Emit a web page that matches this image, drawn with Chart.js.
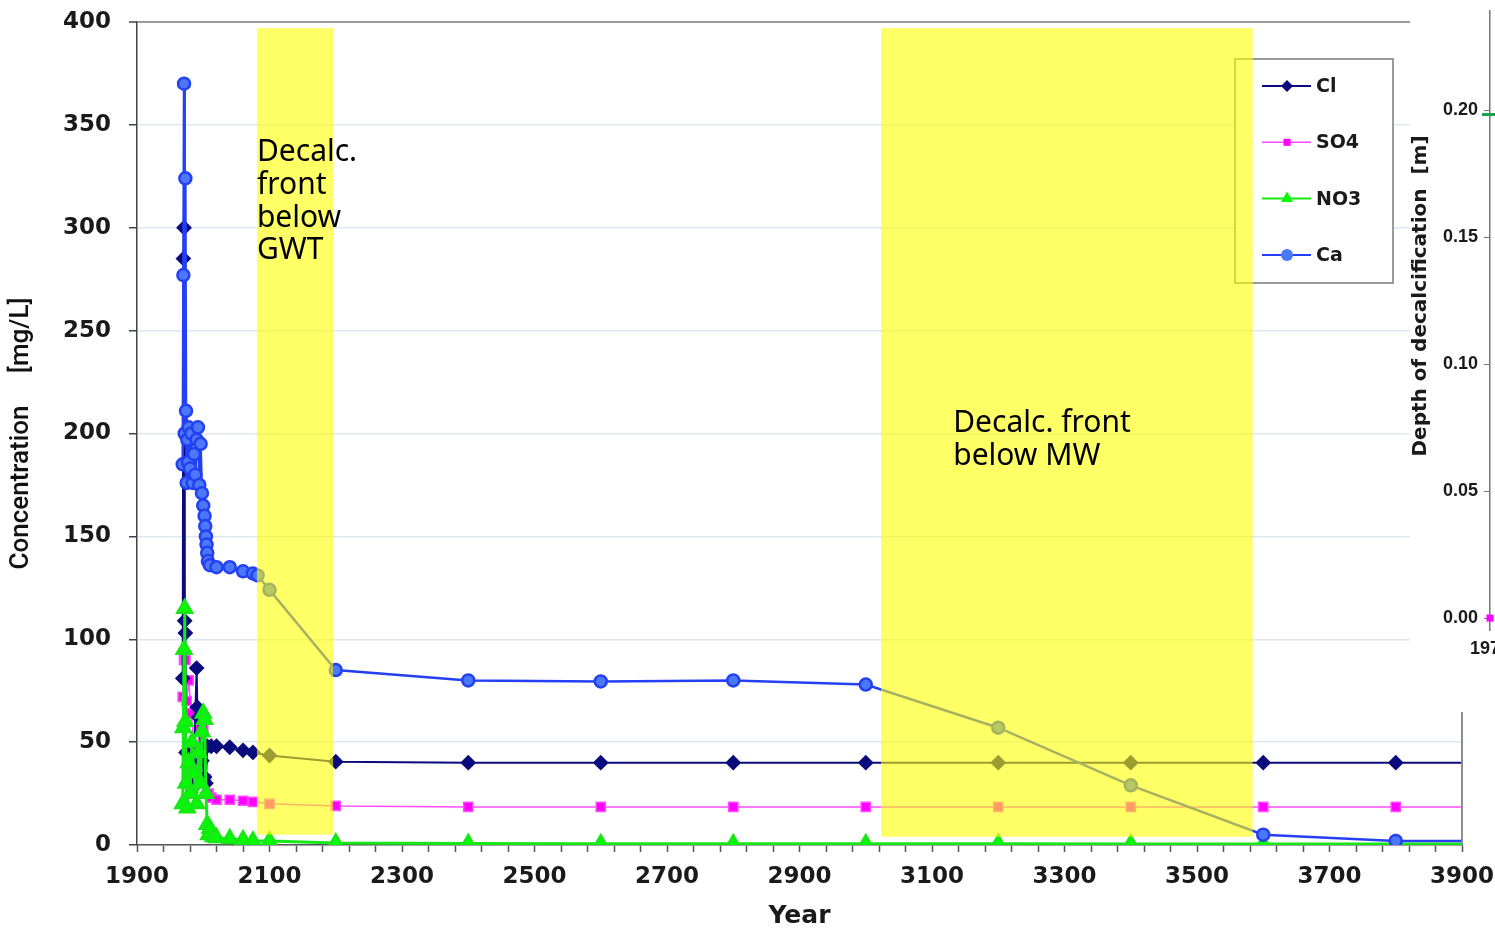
<!DOCTYPE html>
<html>
<head>
<meta charset="utf-8">
<title>Concentration and decalcification depth</title>
<script src="https://cdn.jsdelivr.net/npm/chart.js@4/dist/chart.umd.min.js"></script>
<style>
  html, body { margin: 0; padding: 0; background: #fff; overflow: hidden; width: 1495px; height: 929px; }
  #main { position: absolute; left: 0; top: 0; }
  #depth { position: absolute; left: 1410px; top: 0; background: #fff; }
</style>
</head>
<body>
<canvas id="main" width="1495" height="929"></canvas>
<canvas id="depth" width="200" height="712"></canvas>
<script>
// ---- Concentrations in seepage water [mg/L] ----
const clYears  = [1969,1970,1971,1972,1973,1974,1976,1980,1985,1990,1991,1993,1998,2002,2004,2006,2012,2020,2040,2060,2075,2100,2200,2400,2600,2800,3000,3200,3400,3600,3800,4000];
const clValues = [81,285,300,109,103,45,30,40,28,86,67,62,41,33,30,48,48,48,47.5,46,45,43.5,40.5,40,40,40,40,40,40,40,40,40];

const so4Years  = [1969,1971,1972,1973,1975,1978,1982,1986,1990,1994,1997,2000,2004,2008,2012,2020,2040,2060,2075,2100,2200,2400,2600,2800,3000,3200,3400,3600,3800,4000];
const so4Values = [72,90,200,90,70,80,64,48,38,57,64,57,32,25,23,22,22,21.5,21,20,19,18.5,18.5,18.5,18.5,18.5,18.5,18.5,18.5,18.5];

const no3Years  = [1969,1970,1971,1972,1973,1974,1976,1978,1980,1983,1986,1990,1993,1996,1998,2000,2002,2004,2006,2008,2010,2015,2020,2040,2060,2075,2100,2200,2400,2600,2800,3000,3200,3400,3600,3800,4000];
const no3Values = [20,57,95,115,60,30,18,40,25,50,35,20,45,30,55,64,61,25,10,5,8,4,3.5,3,2.5,2,2,1,0.7,0.6,0.6,0.6,0.6,0.5,0.5,0.5,0.5];

const caYears  = [1969,1970,1971,1972,1973,1974,1975,1976,1977,1978,1980,1982,1984,1986,1988,1990,1992,1994,1996,1998,2000,2002,2003,2004,2005,2006,2007,2010,2020,2040,2060,2075,2082,2100,2200,2400,2600,2800,3000,3200,3400,3600,3800,4000];
const caValues = [185,277,370,200,324,211,176,197,186,203,183,200,176,190,180,197,203,175,195,171,165,160,155,150,146,142,138,136,135,135,133,132,131,124,85,80,79.5,80,78,57,29,5,2,2];

// Year axis: labelled every 200 years, minor ticks every 40 years
const yearLabels = [1900,2100,2300,2500,2700,2900,3100,3300,3500,3700,3900];
const yearTickStep = 40;

// Periods in which the decalcification front lies below the groundwater table / monitoring well
const gwtPeriod = [2081, 2196];
const mwPeriod  = [3023, 3584];
const gwtNote = ['Decalc.', 'front', 'below', 'GWT'];
const mwNote  = ['Decalc. front', 'below MW'];

// ---- Depth of decalcification [m] ----
const depthYears  = [1970, 2100];
const frontDepth  = [0.1984, 0.1984];
const depthTicks  = [0, 0.05, 0.10, 0.15, 0.20];

const pts = (xs, ys) => xs.map((x, i) => ({ x, y: ys[i] }));
const boldFont = size => ({ family: 'DejaVu Sans', weight: 'bold', size });
// keep the plot frame where the layout puts it, whatever the edge labels need
const noEdgePadding = s => { s.paddingLeft = 0; s.paddingRight = 0; s.paddingTop = 0; s.paddingBottom = 0; };

const series = [
  { label: 'Cl',  data: pts(clYears, clValues),   borderColor: '#0a0a7c', backgroundColor: '#0a0a7c', borderWidth: 2,   pointStyle: 'rectRot',  pointRadius: 6.5, order: 3, legendRadius: 6 },
  { label: 'SO4', data: pts(so4Years, so4Values), borderColor: '#ff4cff', backgroundColor: '#ff00ff', borderWidth: 1.5, pointStyle: 'rect',     pointRadius: 6.5, order: 4, legendRadius: 5 },
  { label: 'NO3', data: pts(no3Years, no3Values), borderColor: '#16e816', backgroundColor: '#00ff00', borderWidth: 3,   pointStyle: 'triangle', pointRadius: 8,   order: 2, legendRadius: 7 },
  { label: 'Ca',  data: pts(caYears, caValues),   borderColor: '#2440f2', backgroundColor: '#4a78f6', borderWidth: 2.5, pointStyle: 'circle',   pointRadius: 6,   order: 1, legendRadius: 6 }
];

const extras = {
  id: 'extras',
  afterDatasetsDraw(chart) {
    const { ctx, chartArea: a, scales: { x, y } } = chart;
    ctx.save();

    // right edge of the plot frame
    ctx.strokeStyle = '#8c8c8c';
    ctx.lineWidth = 2;
    ctx.beginPath();
    ctx.moveTo(a.right, a.top);
    ctx.lineTo(a.right, a.bottom);
    ctx.stroke();

    // legend box
    const lx = 1235, ly = 59, lw = 158, lh = 224;
    ctx.fillStyle = '#fff';
    ctx.fillRect(lx, ly, lw, lh);
    ctx.strokeStyle = '#7a7a7a';
    ctx.lineWidth = 1.5;
    ctx.strokeRect(lx, ly, lw, lh);
    chart.data.datasets.forEach((ds, i) => {
      const cy = 86 + i * 56.3;
      ctx.strokeStyle = ds.borderColor;
      ctx.lineWidth = Math.min(ds.borderWidth, 2);
      ctx.beginPath();
      ctx.moveTo(1262, cy);
      ctx.lineTo(1311, cy);
      ctx.stroke();
      ctx.fillStyle = ds.backgroundColor;
      ctx.strokeStyle = ds.backgroundColor;
      Chart.helpers.drawPoint(ctx, { pointStyle: ds.pointStyle, radius: ds.legendRadius, rotation: 0, borderWidth: 0 }, 1287, cy);
      ctx.fillStyle = '#1a1a1a';
      ctx.font = 'bold 19px "DejaVu Sans"';
      ctx.textAlign = 'left';
      ctx.textBaseline = 'middle';
      ctx.fillText(ds.label, 1316, cy + 1);
    });

    // decalcification periods
    ctx.fillStyle = 'rgba(255,255,0,0.6)';
    [[gwtPeriod, 5], [mwPeriod, 4]].forEach(([p, low]) => {
      const x0 = x.getPixelForValue(p[0]), x1 = x.getPixelForValue(p[1]);
      const y0 = y.getPixelForValue(397), y1 = y.getPixelForValue(low);
      ctx.fillRect(x0, y0, x1 - x0, y1 - y0);
    });

    // period notes
    ctx.fillStyle = '#000';
    ctx.font = '30px "Noto Sans"';
    ctx.textAlign = 'left';
    ctx.textBaseline = 'middle';
    gwtNote.forEach((t, i) => ctx.fillText(t, x.getPixelForValue(gwtPeriod[0]), y.getPixelForValue(336.5) + i * 32.7));
    mwNote.forEach((t, i) => ctx.fillText(t, x.getPixelForValue(3132), y.getPixelForValue(205) + i * 33));

    ctx.restore();
  }
};

new Chart(document.getElementById('main'), {
  type: 'line',
  data: { datasets: series },
  options: {
    responsive: false,
    animation: false,
    events: [],
    layout: { padding: { left: 0, right: 33, top: 22, bottom: 0 } },
    elements: { line: { tension: 0 } },
    plugins: { legend: { display: false }, tooltip: { enabled: false } },
    scales: {
      x: {
        type: 'linear', min: yearLabels[0], max: yearLabels[yearLabels.length - 1],
        afterBuildTicks: s => {
          const ticks = [];
          for (let v = s.min; v <= s.max + 0.5; v += yearTickStep) ticks.push({ value: v });
          s.ticks = ticks;
        },
        afterFit: s => { s.height = 84; noEdgePadding(s); },
        ticks: {
          autoSkip: false, maxRotation: 0,
          callback: v => (yearLabels.includes(Math.round(v)) ? String(Math.round(v)) : ''),
          font: boldFont(23), color: '#1a1a1a', padding: 11
        },
        grid: { drawOnChartArea: false, tickLength: 7, tickColor: '#555', tickWidth: 1.5 },
        border: { color: '#555', width: 1.5 },
        title: { display: true, text: 'Year', font: { family: 'DejaVu Sans', weight: 'bold', size: 25, lineHeight: 1 }, color: '#1a1a1a', padding: { top: 0, bottom: 0 } }
      },
      y: {
        min: 0, max: 400,
        afterFit: s => { s.width = 137; noEdgePadding(s); },
        ticks: { stepSize: 50, font: boldFont(23), color: '#1a1a1a', padding: 18 },
        grid: {
          color: c => (c.tick && c.tick.value === 400 ? '#9c9c9c' : '#dce8f0'),
          lineWidth: c => (c.tick && c.tick.value === 400 ? 2 : 1.5),
          tickLength: 8, tickColor: '#444', tickWidth: 1.5
        },
        border: { color: '#444', width: 1.5 },
        title: { display: true, text: 'Concentration     [mg/L]', font: { family: 'Roboto', weight: 500, size: 26 }, color: '#111', padding: { top: 6, bottom: 0 } }
      }
    }
  },
  plugins: [extras]
});

// ---- Depth of decalcification panel ----
const depthTitle = {
  id: 'depthTitle',
  afterDraw(chart) {
    const ctx = chart.ctx;
    ctx.save();
    ctx.translate(11, 296);
    ctx.rotate(-Math.PI / 2);
    ctx.fillStyle = '#1a1a1a';
    ctx.font = 'bold 20px "DejaVu Sans"';
    ctx.textAlign = 'center';
    ctx.textBaseline = 'middle';
    ctx.fillText('Depth of decalcification  [m]', 0, 0);
    ctx.restore();
  }
};

const depthFont = { family: 'Liberation Sans', weight: 'bold', size: 18, lineHeight: 0.1 };

new Chart(document.getElementById('depth'), {
  type: 'line',
  data: {
    datasets: [
      { data: pts(depthYears, frontDepth), borderColor: '#17a34a', borderWidth: 3, pointStyle: 'line', pointRadius: [8, 0], pointBorderWidth: 3, pointBorderColor: '#17a34a', clip: false },
      { data: [{ x: depthYears[0], y: 0 }], showLine: false, pointStyle: 'rect', pointRadius: 5, pointBackgroundColor: '#ff00ff', pointBorderWidth: 0, clip: false }
    ]
  },
  options: {
    responsive: false,
    animation: false,
    events: [],
    layout: { padding: 0 },
    plugins: { legend: { display: false }, tooltip: { enabled: false } },
    scales: {
      x: {
        type: 'linear', min: 1970, max: 2100,
        afterBuildTicks: s => { s.ticks = [{ value: depthYears[0] }]; },
        afterFit: s => { s.height = 82; },
        ticks: { font: { family: 'Liberation Sans', weight: 'bold', size: 18 }, color: '#1a1a1a', padding: 0, maxRotation: 0, autoSkip: false, callback: v => String(v) },
        grid: { display: false },
        border: { display: false }
      },
      y: {
        min: -0.0047, max: 0.2392,
        afterBuildTicks: s => { s.ticks = depthTicks.map(v => ({ value: v })); },
        afterFit: s => { s.width = 80; },
        ticks: { callback: v => Number(v).toFixed(2), font: depthFont, color: '#1a1a1a', padding: 6 },
        grid: { drawOnChartArea: false, tickLength: 6, tickColor: '#777' },
        border: { color: '#777', width: 1.5 }
      }
    }
  },
  plugins: [depthTitle]
});
</script>
</body>
</html>
